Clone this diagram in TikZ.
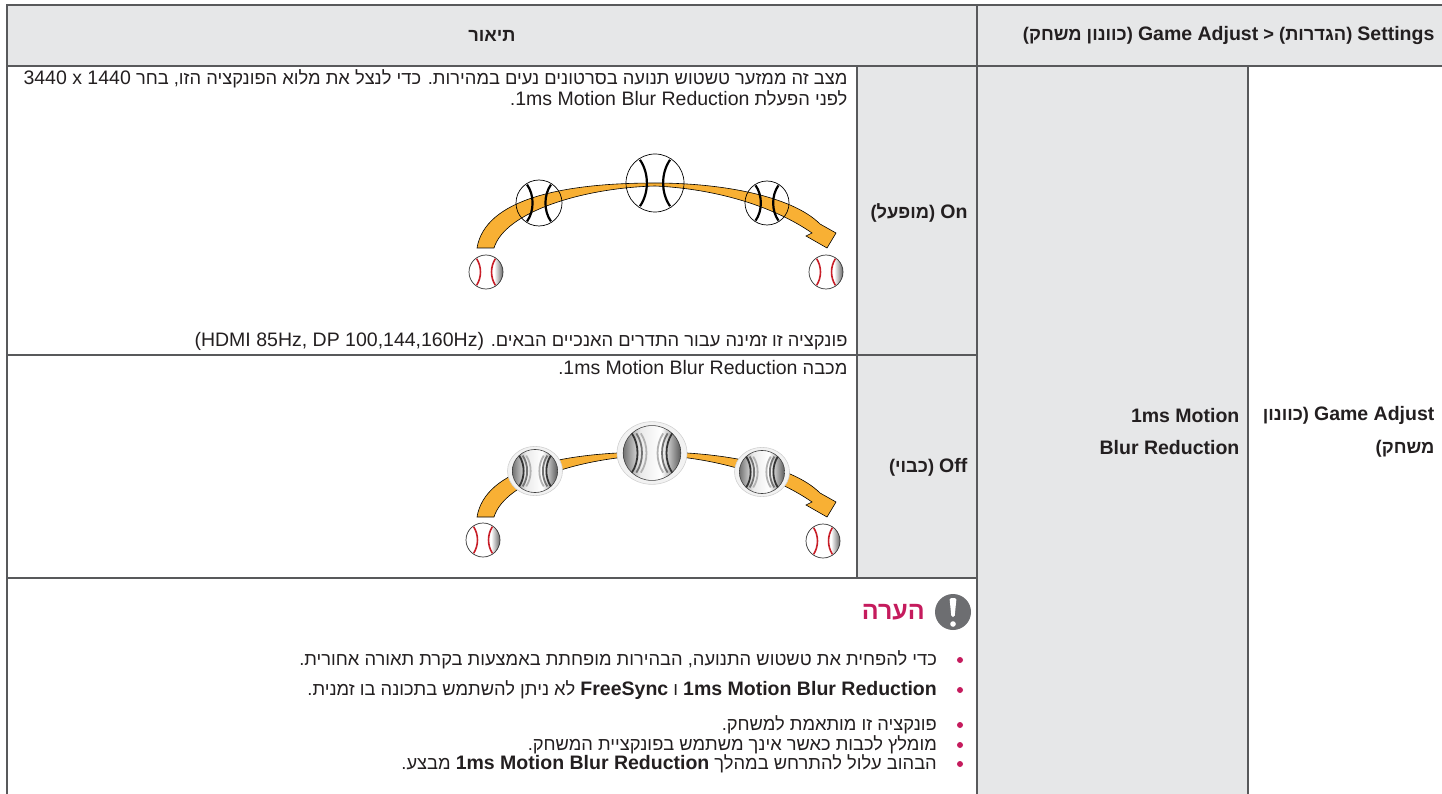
\documentclass[tikz,border=0pt]{standalone}
\usepackage{fontspec}
\setmainfont{Liberation Sans}[Scale=1.066]
\newfontfamily\heb[Script=Hebrew]{Liberation Sans}
\TeXXeTstate=1
\usetikzlibrary{positioning}

\definecolor{cellgray}{RGB}{230,231,232}
\definecolor{rulegray}{RGB}{88,89,91}
\definecolor{ink}{RGB}{35,31,32}
\definecolor{lgpink}{RGB}{197,27,93}
\definecolor{swooshfill}{RGB}{248,176,52}
\definecolor{icongray}{RGB}{109,110,113}
\definecolor{seamred}{RGB}{200,30,40}

\newcommand{\lat}[1]{\beginL{\rmfamily #1}\endL}
\newcommand{\rtl}[1]{{\heb\beginR #1\endR}}
\newcommand{\txtfont}{\fontsize{18.3}{21}\selectfont}

\pgfdeclarehorizontalshading{ballshade}{100bp}{color(0bp)=(white); color(50bp)=(white); color(62bp)=(white); color(75bp)=(black!60); color(100bp)=(black!60)}
\pgfdeclarehorizontalshading{blurshade}{100bp}{color(0bp)=(black!55); color(25bp)=(black!55); color(40bp)=(black!8); color(58bp)=(white); color(75bp)=(black!65); color(100bp)=(black!65)}

% orange swoosh, drawn for the On row
\newcommand{\swoosh}{%
\filldraw[fill=swooshfill, draw=black, line width=0.6pt]
 (477,248) .. controls (485,200) and (560,183) .. (655,183)
 .. controls (722,183) and (792,196) .. (820,224)
 -- (836,233) -- (827,248) -- (806,236) -- (812,233)
 .. controls (776,208) and (720,189) .. (655,186)
 .. controls (582,188) and (505,212) .. (494,248) -- cycle;}

% sharp ball, outline only
\newcommand{\sharpball}[3]{%
\begin{scope}[shift={(#1,#2)}, scale=#3]
\draw[line width=0.7pt] (0,0) circle (1);
\draw[line width=2.2pt] (-.52,-.8) .. controls (-.2,-.35) and (-.2,.35) .. (-.52,.8)
 (.52,-.8) .. controls (.2,-.35) and (.2,.35) .. (.52,.8);
\end{scope}}

% small ball with red seams
\newcommand{\smallball}[2]{%
\begin{scope}[shift={(#1,#2)}, scale=17]
\shadedraw[shading=ballshade, draw=black!80, line width=0.7pt] (0,0) circle (1);
\draw[seamred, line width=1.6pt] (-.55,-.78) .. controls (-.25,-.3) and (-.25,.3) .. (-.55,.78)
 (.55,-.78) .. controls (.25,-.3) and (.25,.3) .. (.55,.78);
\end{scope}}

% blurred ball
\newcommand{\blurball}[3]{%
\begin{scope}[shift={(#1,#2)}, scale=#3]
\filldraw[fill=black!5, draw=black!18, line width=0.6pt] (0,0) ellipse (1.25 and 1.12);
\shadedraw[shading=blurshade, draw=black!75, line width=0.6pt] (0,0) ellipse (1.03 and .98);
\foreach \off/\col in {0/black!80, .16/black!55, .32/black!30}{
 \draw[\col, line width=1.8pt] ({-.72+\off},-.7) .. controls ({-.45+\off},-.3) and ({-.45+\off},.3) .. ({-.72+\off},.7)
  ({.72-\off},-.7) .. controls ({.45-\off},-.3) and ({.45-\off},.3) .. ({.72-\off},.7);}
\end{scope}}

\begin{document}
\begin{tikzpicture}[x=1pt, y=-1pt, line width=1.2pt, font=\txtfont, text=ink,
txt/.style={anchor=east, inner sep=0pt},
hd/.style={inner sep=0pt, font=\txtfont\bfseries},
dot/.style={circle, fill=lgpink, inner sep=0pt, minimum size=6pt}]

\useasboundingbox (0,0) rectangle (1442,794);

% cells
\fill[cellgray] (7,5) rectangle (1442,66);
\fill[cellgray] (857,66) rectangle (977,578);
\fill[cellgray] (977,66) rectangle (1248,794);

% rules
\draw[rulegray, line width=1.6pt] (1442,5) -- (7,5) -- (7,794);
\draw[rulegray] (7,66) -- (1442,66);
\draw[rulegray] (977,5) -- (977,794);
\draw[rulegray] (857,66) -- (857,578);
\draw[rulegray] (1248,66) -- (1248,794);
\draw[rulegray] (7,355) -- (977,355);
\draw[rulegray] (7,578) -- (977,578);

% header
\node[hd] (desc) at (492,36) {\rtl{תיאור}};
\node[hd, anchor=east] (menu) at (1435,36) {\rtl{\lat{Settings} (הגדרות) < \lat{Game Adjust} (כוונון משחק)}};

% menu and item
\node[hd, anchor=east] (game) at (1435,415) {\rtl{\lat{Game Adjust} (כוונון}};
\node[hd] (gameb) [below=15pt of game.south east, anchor=north east] {\rtl{משחק)}};
\node[hd, anchor=east] (item) at (1240,416) {1ms Motion};
\node[hd] (itemb) [below=16pt of item.south east, anchor=north east] {Blur Reduction};

% On row
\node[hd, anchor=east] (on) at (968,213) {\rtl{\lat{On} (מופעל)}};
\node[txt] (ona) at (848,79) {\rtl{מצב זה ממזער טשטוש תנועה בסרטונים נעים במהירות. כדי לנצל את מלוא הפונקציה הזו, בחר \lat{3440 x 1440}}};
\node[txt] (onb) at (848,98) {\rtl{לפני הפעלת \lat{1ms Motion Blur Reduction}.}};
\node[txt] (onc) at (848,341) {\rtl{פונקציה זו זמינה עבור התדרים האנכיים הבאים. \lat{(HDMI 85Hz, DP 100,144,160Hz)}}};
\swoosh
\sharpball{539}{203}{23}
\sharpball{655}{183}{29}
\sharpball{767}{203}{22}
\smallball{486}{272}
\smallball{826}{272}

% Off row
\node[hd, anchor=east] (off) at (968,467) {\rtl{\lat{Off} (כבוי)}};
\node[txt] (offa) at (848,368) {\rtl{מכבה \lat{1ms Motion Blur Reduction}.}};
\begin{scope}[shift={(0,269)}]
\swoosh
\end{scope}
\blurball{535}{471}{22}
\blurball{652}{453}{28}
\blurball{762}{472}{22}
\smallball{483}{540}
\smallball{823}{541}

% note
\node[circle, fill=icongray, minimum size=36pt, inner sep=0pt] (warn) at (953,612) {};
\fill[white, rounded corners=1.5pt] (949.5,598) -- (956.5,598) -- (954.6,617) -- (951.4,617) -- cycle;
\fill[white] (953,624) circle (2.8);
\node[hd, font=\fontsize{25}{28}\selectfont\bfseries, text=lgpink] (notehd) [left=9pt of warn] {\rtl{הערה}};

\node[dot] (b1) at (960,660) {};
\node[dot] (b2) at (960,690) {};
\node[dot] (b3) at (960,725) {};
\node[dot] (b4) at (960,745) {};
\node[dot] (b5) at (960,764) {};
\node[txt] (n1) [left=19pt of b1] {\rtl{כדי להפחית את טשטוש התנועה, הבהירות מופחתת באמצעות בקרת תאורה אחורית.}};
\node[txt] (n2) [left=19pt of b2] {\rtl{\lat{\bfseries 1ms Motion Blur Reduction} ו \lat{\bfseries FreeSync} לא ניתן להשתמש בתכונה בו זמנית.}};
\node[txt] (n3) [left=19pt of b3] {\rtl{פונקציה זו מותאמת למשחק.}};
\node[txt] (n4) [left=19pt of b4] {\rtl{מומלץ לכבות כאשר אינך משתמש בפונקציית המשחק.}};
\node[txt] (n5) [left=19pt of b5] {\rtl{הבהוב עלול להתרחש במהלך \lat{\bfseries 1ms Motion Blur Reduction} מבצע.}};

\end{tikzpicture}
\end{document}
